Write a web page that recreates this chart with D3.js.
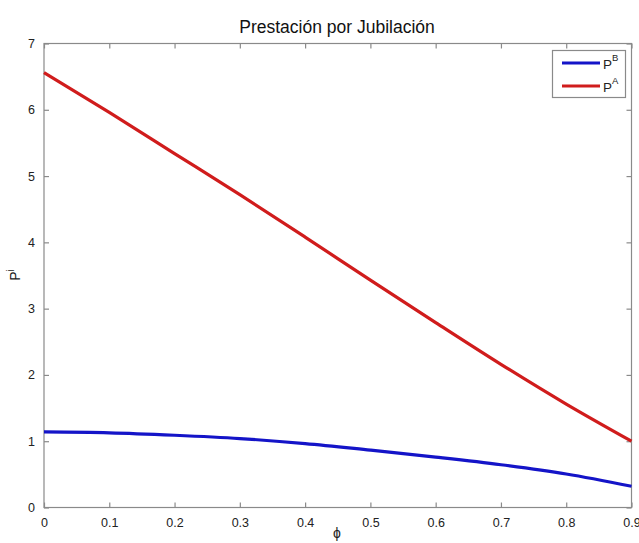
<!DOCTYPE html>
<html>
<head>
<meta charset="utf-8">
<script src="https://cdn.jsdelivr.net/npm/d3@7/dist/d3.min.js"></script>
<style>
  html, body { margin: 0; padding: 0; background: #fff; }
  svg { display: block; font-family: "Liberation Sans", Arial, Helvetica, sans-serif; }
</style>
</head>
<body>
<svg id="chart" width="639" height="543"></svg>
<script>
// Retirement benefit as a function of phi
const phi = [0, 0.1, 0.2, 0.3, 0.4, 0.5, 0.6, 0.7, 0.8, 0.9];
const benefitB = [1.14, 1.127, 1.09, 1.04, 0.965, 0.865, 0.76, 0.645, 0.505, 0.32];
const benefitA = [6.56, 5.96, 5.34, 4.72, 4.08, 3.43, 2.79, 2.16, 1.56, 1.00];
const xTicks = [0, 0.1, 0.2, 0.3, 0.4, 0.5, 0.6, 0.7, 0.8, 0.9];
const yTicks = [0, 1, 2, 3, 4, 5, 6, 7];
const seriesNames = ["B", "A"];

const svg = d3.select("#chart");
const plotLeft = 44, plotRight = 631.5, plotTop = 43.5, plotBottom = 507.5;
const axisColor = "#8a8a8a";
const tickLen = 5;

const x = d3.scaleLinear().domain([0, 0.9]).range([plotLeft, plotRight]);
const y = d3.scaleLinear().domain([0, 7]).range([plotBottom, plotTop]);

// Title
svg.append("text")
  .attr("x", 337).attr("y", 33)
  .attr("text-anchor", "middle")
  .attr("font-size", 17.5)
  .attr("fill", "#111")
  .text("Prestación por Jubilación");

// Axes (ticks inward on all four sides)
const fmtX = d => d === 0 ? "0" : d3.format(".1f")(d);
const bottomAxis = d3.axisBottom(x).tickValues(xTicks).tickSize(-tickLen).tickPadding(tickLen + 6).tickFormat(fmtX);
const topAxis = d3.axisTop(x).tickValues(xTicks).tickSize(-tickLen).tickFormat("");
const leftAxis = d3.axisLeft(y).tickValues(yTicks).tickSize(-tickLen).tickPadding(tickLen + 4).tickFormat(d3.format("d"));
const rightAxis = d3.axisRight(y).tickValues(yTicks).tickSize(-tickLen).tickFormat("");

function styleAxis(g) {
  g.select(".domain").remove();
  g.selectAll(".tick line").attr("stroke", axisColor).attr("stroke-width", 1.2);
  g.selectAll(".tick text").attr("fill", "#222").attr("font-size", 12.5)
    .attr("font-family", "'Liberation Sans', Arial, sans-serif");
}

svg.append("g").attr("transform", `translate(0,${plotBottom})`).call(bottomAxis).call(styleAxis);
svg.append("g").attr("transform", `translate(0,${plotTop})`).call(topAxis).call(styleAxis);
svg.append("g").attr("transform", `translate(${plotLeft},0)`).call(leftAxis).call(styleAxis);
svg.append("g").attr("transform", `translate(${plotRight},0)`).call(rightAxis).call(styleAxis);
svg.append("rect")
  .attr("x", plotLeft).attr("y", plotTop)
  .attr("width", plotRight - plotLeft).attr("height", plotBottom - plotTop)
  .attr("fill", "none").attr("stroke", axisColor).attr("stroke-width", 1.2);

// Axis labels
svg.append("text")
  .attr("x", 337).attr("y", 538)
  .attr("text-anchor", "middle")
  .attr("font-size", 14)
  .attr("fill", "#222")
  .text("ϕ");

const yl = svg.append("text")
  .attr("transform", "translate(20,275) rotate(-90)")
  .attr("text-anchor", "middle")
  .attr("font-size", 14)
  .attr("fill", "#222");
yl.append("tspan").text("P");
yl.append("tspan").attr("font-size", 10).attr("dy", -6).text("i");

// Lines
const colors = { B: "#1414c8", A: "#d01c1c" };
const data = { B: benefitB, A: benefitA };
const line = d3.line().x((d, i) => x(phi[i])).y(d => y(d)).curve(d3.curveMonotoneX);

svg.append("g").selectAll("path.series")
  .data(seriesNames)
  .join("path")
  .attr("class", "series")
  .attr("d", k => line(data[k]))
  .attr("fill", "none")
  .attr("stroke", k => colors[k])
  .attr("stroke-width", 3.2)
  .attr("stroke-linejoin", "round");

// Legend
const lg = svg.append("g");
lg.append("rect")
  .attr("x", 552.5).attr("y", 50.5)
  .attr("width", 73).attr("height", 47)
  .attr("fill", "#fff").attr("stroke", axisColor).attr("stroke-width", 1.2);
seriesNames.forEach((k, i) => {
  const ly = 63 + i * 23;
  lg.append("line")
    .attr("x1", 562).attr("x2", 600)
    .attr("y1", ly).attr("y2", ly)
    .attr("stroke", colors[k]).attr("stroke-width", 3.2);
  const t = lg.append("text")
    .attr("x", 603).attr("y", ly + 6)
    .attr("font-size", 13.5)
    .attr("fill", "#222");
  t.append("tspan").text("P");
  t.append("tspan").attr("font-size", 9.5).attr("dy", -8).text(k);
});
</script>
</body>
</html>
